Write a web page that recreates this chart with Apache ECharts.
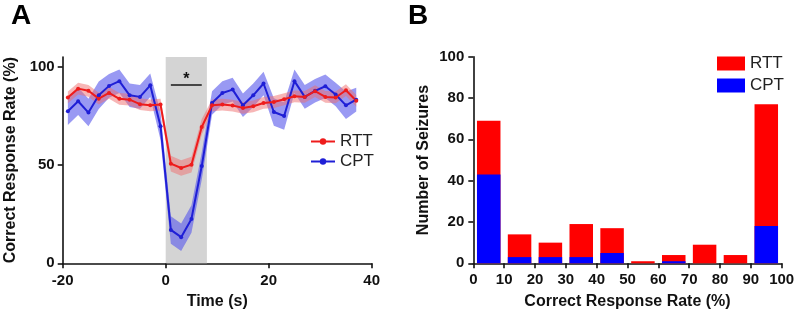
<!DOCTYPE html>
<html>
<head>
<meta charset="utf-8">
<script src="https://cdn.jsdelivr.net/npm/echarts@6/dist/echarts.min.js"></script>
<style>
  html, body { margin: 0; padding: 0; background: #fff; }
  #chart { width: 800px; height: 316px; }
</style>
</head>
<body>
<div id="chart"></div>
<script>
// panel A: mean correct response rate around seizure onset
const time = [-19, -17, -15, -13, -11, -9, -7, -5, -3, -1, 1, 3, 5, 7, 9, 11, 13, 15, 17, 19, 21, 23, 25, 27, 29, 31, 33, 35, 37]
const rtt = [84.4, 88.9, 87.8, 83.8, 86.7, 83.7, 83.3, 81, 80.4, 80.8, 50.7, 48.5, 50.2, 69.4, 80.4, 80.8, 80.3, 79.1, 79.9, 81.6, 82.1, 83.5, 85, 84.7, 87.6, 84.7, 84.4, 88.1, 82.7]
const rttErr = [3, 3, 3, 3, 3, 3, 3, 3, 3, 3, 4, 4, 4, 4, 3, 3, 3, 3, 3, 3, 3, 3, 3, 3, 3, 3, 3, 3, 3]
const cpt = [77.4, 82.5, 76.7, 85.5, 90.3, 92.7, 85.5, 84.7, 90.6, 69.7, 17, 13.3, 22.6, 49.5, 81.6, 86.7, 88.4, 80.4, 85.5, 91.5, 77, 75, 92.7, 84.7, 87.8, 90.1, 85.9, 80.4, 83.3]
const cptErr = [7, 7, 7, 7, 6, 6, 6, 6, 6, 7, 7, 7, 7, 7, 6, 6, 6, 6, 6, 6, 7, 7, 6, 6, 6, 6, 6, 7, 6]
const seizureWindow = [0, 8]
const sigBar = [1, 7, 91]

// panel B: histogram of seizures by correct response rate
const binCenters = [5, 15, 25, 35, 45, 55, 65, 75, 85, 95]
const cptBars = [43, 3, 3, 3, 5, 0, 1, 0, 0, 18]
const rttBars = [26, 11, 7, 16, 12, 1, 3, 9, 4, 59]

const RED = '#ee1c1c', BLUE = '#1f1fd6'
const FONT = '"Liberation Sans", Arial, sans-serif'
const pair = (xs, ys) => xs.map((x, i) => [x, ys[i]])

const axisCommon = {
  axisLine: { show: true, onZero: false, lineStyle: { color: '#111', width: 1.6 } },
  axisTick: { show: true, length: 5, lineStyle: { color: '#111', width: 1.6 } },
  splitLine: { show: false },
  nameLocation: 'middle',
  nameTextStyle: { color: '#111', fontSize: 16, fontWeight: 'bold', fontFamily: FONT }
}
const labelCommon = { color: '#111', fontSize: 15, fontWeight: 'bold', fontFamily: FONT }

// shaded mean ± error band, drawn as one polygon through the axis scales
function band(name, means, errs, fill) {
  return {
    name, type: 'custom', xAxisIndex: 0, yAxisIndex: 0, silent: true,
    data: pair(time, means),
    renderItem(params, api) {
      if (params.dataIndex !== 0) return
      const upper = time.map((t, i) => api.coord([t, means[i] + errs[i]]))
      const lower = time.map((t, i) => api.coord([t, means[i] - errs[i]])).reverse()
      return { type: 'polygon', shape: { points: upper.concat(lower) }, style: { fill } }
    }
  }
}

const chart = echarts.init(document.getElementById('chart'))
const cptBand = band('cptBand', cpt, cptErr, 'rgba(90,90,235,0.62)')
const rttBand = band('rttBand', rtt, rttErr, 'rgba(240,110,110,0.5)')
cptBand.markArea = {
  silent: true,
  itemStyle: { color: '#d4d4d4' },
  data: [[{ xAxis: seizureWindow[0] }, { xAxis: seizureWindow[1] }]]
}
const totals = rttBars.map((v, i) => v + cptBars[i])

chart.setOption({
  animation: false,
  textStyle: { fontFamily: FONT },
  title: [
    { text: 'A', left: 6, top: -3, textStyle: { fontSize: 28, fontWeight: 'bold', color: '#000', fontFamily: FONT } },
    { text: 'B', left: 403, top: -3, textStyle: { fontSize: 28, fontWeight: 'bold', color: '#000', fontFamily: FONT } }
  ],
  legend: [
    { data: ['RTT', 'CPT'], orient: 'vertical', left: 305, top: 128, itemWidth: 24, itemHeight: 8, itemGap: 3,
      textStyle: { fontSize: 17, color: '#222', fontFamily: FONT, lineHeight: 17 } },
    { data: ['RTT ', 'CPT '], orient: 'vertical', left: 712, top: 50, itemWidth: 28, itemHeight: 14, itemGap: 5,
      icon: 'rect', textStyle: { fontSize: 17, color: '#222', fontFamily: FONT } }
  ],
  grid: [
    { left: 62.7, right: 428.3, top: 57, bottom: 52.7 },
    { left: 473.3, right: 18.3, top: 56.7, bottom: 52.7 }
  ],
  xAxis: [
    { ...axisCommon, gridIndex: 0, type: 'value', min: -20, max: 40, interval: 20, name: 'Time (s)', nameGap: 30,
      axisLabel: { ...labelCommon, margin: 10 } },
    { ...axisCommon, gridIndex: 1, type: 'value', min: 0, max: 100, interval: 10, name: 'Correct Response Rate (%)', nameGap: 30,
      axisLabel: { ...labelCommon, margin: 9 } }
  ],
  yAxis: [
    { ...axisCommon, gridIndex: 0, type: 'value', min: 0, max: 105, interval: 50, name: 'Correct Response Rate (%)', nameGap: 44,
      axisTick: { ...axisCommon.axisTick, customValues: [0, 50, 100] },
      axisLabel: { ...labelCommon, margin: 8, customValues: [0, 50, 100] } },
    { ...axisCommon, gridIndex: 1, type: 'value', min: 0, max: 100, interval: 20, name: 'Number of Seizures', nameGap: 42,
      axisLabel: { ...labelCommon, margin: 9 } }
  ],
  series: [
    cptBand, rttBand,
    { name: 'CPT', type: 'line', xAxisIndex: 0, yAxisIndex: 0, data: pair(time, cpt),
      color: BLUE, lineStyle: { color: BLUE, width: 2 }, symbol: 'circle', symbolSize: 4 },
    { name: 'RTT', type: 'line', xAxisIndex: 0, yAxisIndex: 0, data: pair(time, rtt),
      color: RED, lineStyle: { color: RED, width: 2 }, symbol: 'circle', symbolSize: 4,
      markLine: {
        silent: true, symbol: 'none',
        lineStyle: { color: '#222', width: 1.6, type: 'solid' },
        label: { show: true, formatter: '*', position: 'insideMiddleTop', distance: -3,
          color: '#111', fontSize: 16, fontWeight: 'bold' },
        data: [[{ coord: [sigBar[0], sigBar[2]] }, { coord: [sigBar[1], sigBar[2]] }]]
      } },
    // RTT sits on top of CPT: draw the totals, then CPT over them
    { name: 'RTT ', type: 'bar', xAxisIndex: 1, yAxisIndex: 1, barWidth: 23.5, barGap: '-100%',
      data: pair(binCenters, totals), color: '#ff0000', itemStyle: { color: '#ff0000' } },
    { name: 'CPT ', type: 'bar', xAxisIndex: 1, yAxisIndex: 1, barWidth: 23.5, barGap: '-100%',
      data: pair(binCenters, cptBars), color: '#0000ff', itemStyle: { color: '#0000ff' } }
  ]
})
</script>
</body>
</html>
